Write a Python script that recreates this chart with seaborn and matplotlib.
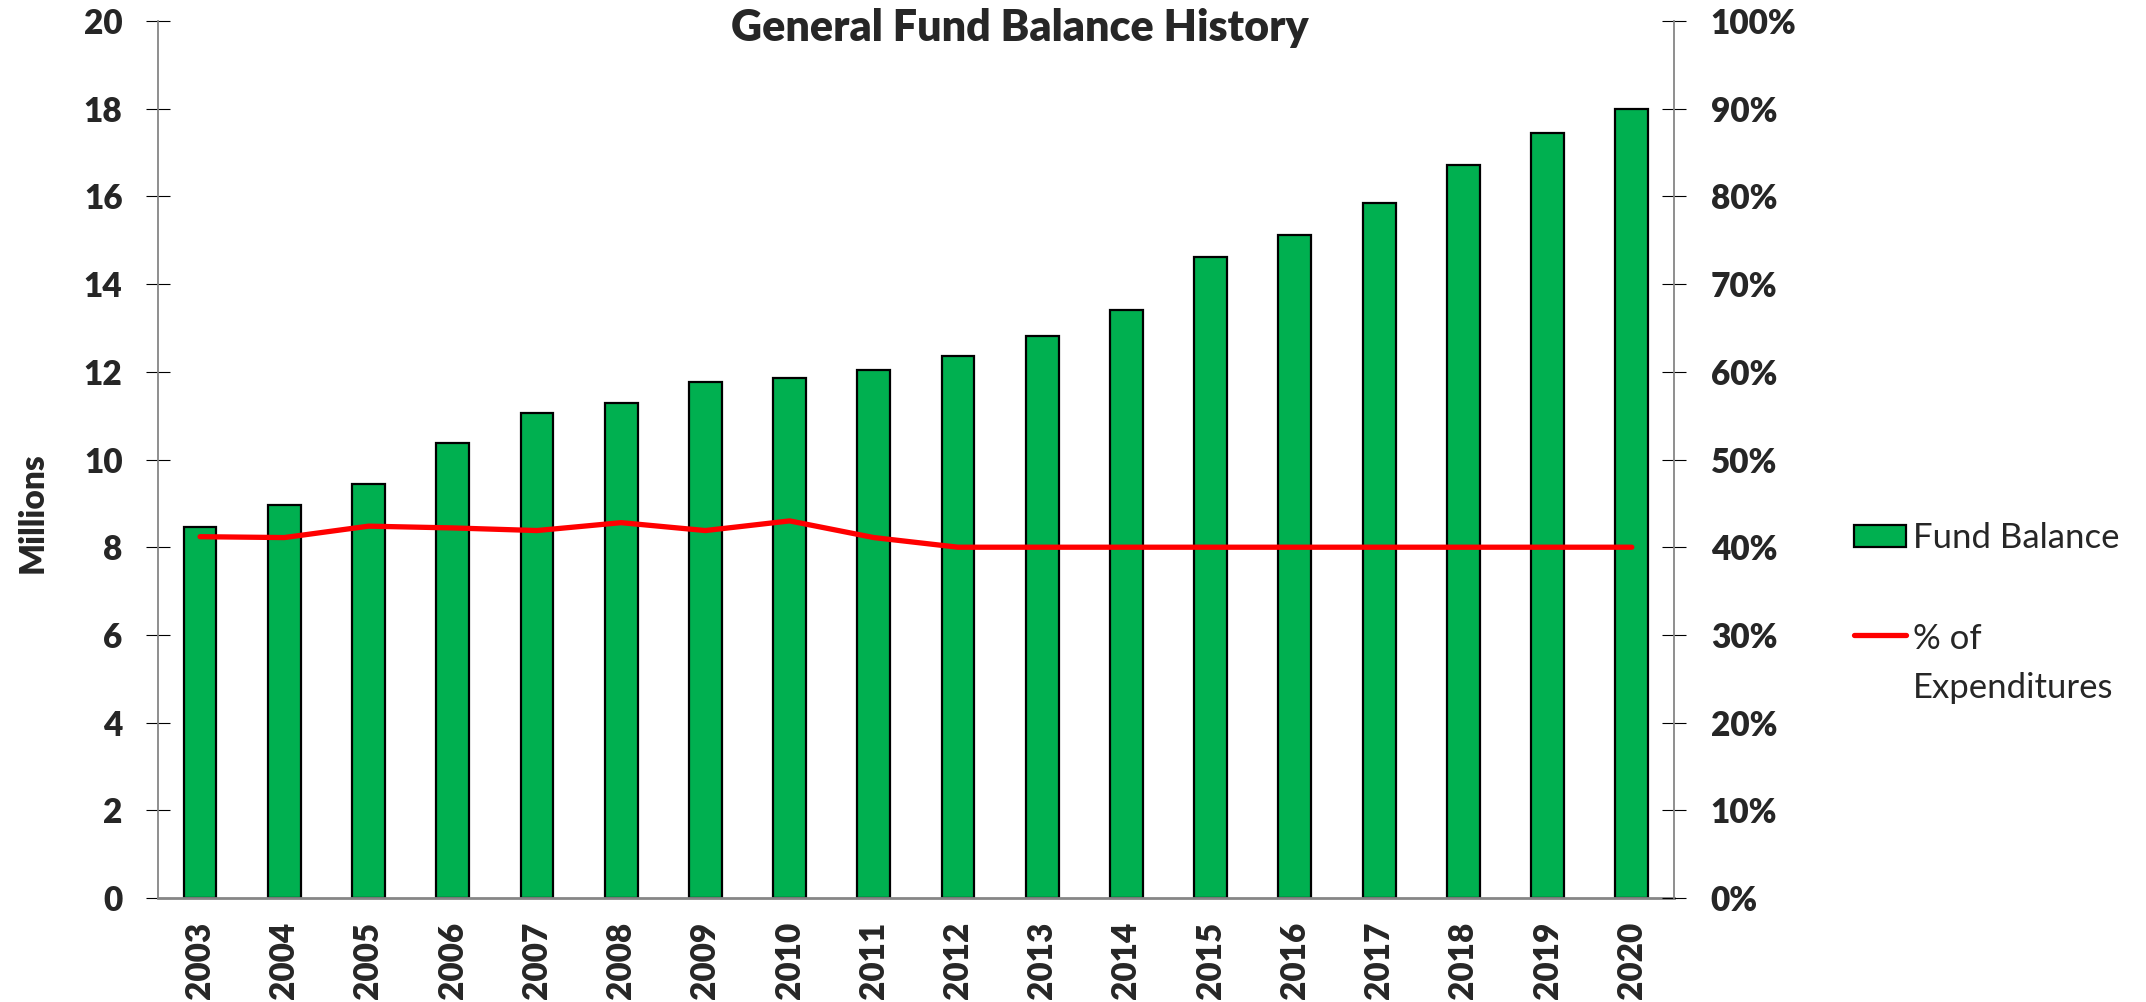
import numpy as np
import pandas as pd
import seaborn as sns
import matplotlib.pyplot as plt
from matplotlib.patches import Patch
from matplotlib.lines import Line2D
from matplotlib.ticker import FuncFormatter

sns.set_theme(style="white")
plt.rcParams['font.family'] = ['Lato', 'DejaVu Sans']

# data
years = [str(y) for y in range(2003, 2021)]
fund_balance = [8.47, 8.97, 9.45, 10.38, 11.05, 11.30, 11.76, 11.87, 12.04,
                12.35, 12.82, 13.42, 14.63, 15.11, 15.86, 16.71, 17.45, 17.99]
pct_expend = [0.412, 0.411, 0.424, 0.422, 0.419, 0.428, 0.419, 0.430, 0.411,
              0.400, 0.400, 0.400, 0.400, 0.400, 0.400, 0.400, 0.400, 0.400]

df = pd.DataFrame({'Year': years, 'Fund Balance': fund_balance, 'Pct': pct_expend})

green = '#00B050'
spine_gray = '#868686'
tick_fs = 24
heavy = 'heavy'

fig = plt.figure(figsize=(21.46, 10.02), dpi=100)
ax = fig.add_axes([0.0736, 0.1038, 0.7064, 0.8752])

sns.barplot(data=df, x='Year', y='Fund Balance', ax=ax, color=green,
            saturation=1, width=0.39, edgecolor='black', linewidth=1.6)

ax2 = ax.twinx()
sns.pointplot(data=df, x='Year', y='Pct', ax=ax2, color='red', markers='',
              linestyles='-', linewidth=3.8, errorbar=None)

ax.set_xlim(-0.5, 17.5)
ax2.set_xlim(-0.5, 17.5)
ax.set_ylim(0, 20)
ax2.set_ylim(0, 1)
ax.set_yticks(np.arange(0, 21, 2))
ax2.set_yticks(np.arange(0, 1.01, 0.1))
ax2.yaxis.set_major_formatter(FuncFormatter(lambda v, p: f"{v:.0%}"))

# category ticks: labels at centres, tick marks between categories
ax.set_xticks(range(len(years)))
ax.set_xticklabels(years, rotation=90, fontsize=tick_fs, fontweight=heavy)
ax.set_xticks(np.arange(-0.5, len(years), 1), minor=True)
ax.tick_params(axis='x', which='major', length=0, pad=17)
ax.tick_params(axis='x', which='minor', length=17, direction='inout',
               width=0.8, color='black')
ax.tick_params(axis='y', length=17, direction='inout', width=0.8,
               color='black', pad=17, labelsize=tick_fs)
ax2.tick_params(axis='y', length=17, direction='inout', width=0.8,
                color='black', pad=18, labelsize=tick_fs)
for lab in ax.get_yticklabels() + ax2.get_yticklabels():
    lab.set_fontweight(heavy)

ax.set_xlabel('')
ax.set_ylabel('Millions', fontsize=tick_fs, fontweight=heavy)
ax.yaxis.set_label_coords(-0.072, 0.44)
ax2.set_ylabel('')

for a in (ax, ax2):
    a.spines['top'].set_visible(False)
    a.grid(False)
ax.spines['right'].set_visible(False)
ax.spines['left'].set_color(spine_gray)
ax.spines['left'].set_linewidth(1.3)
ax.spines['bottom'].set_color(spine_gray)
ax.spines['bottom'].set_linewidth(2)
ax2.spines['left'].set_visible(False)
ax2.spines['bottom'].set_visible(False)
ax2.spines['right'].set_color(spine_gray)
ax2.spines['right'].set_linewidth(1.3)

fig.text(0.475, 0.972, 'General Fund Balance History', ha='center', va='center',
         fontsize=31, fontweight=heavy)

handles = [Patch(facecolor=green, edgecolor='black', linewidth=1.6),
           Line2D([], [], color='red', linewidth=3.8)]
leg = fig.legend(handles, ['Fund Balance', '% of\nExpenditures'],
                 loc='upper left', bbox_to_anchor=(0.864, 0.479),
                 frameon=False, fontsize=25, handlelength=1.5,
                 handleheight=0.6, handletextpad=0.2, labelspacing=2.0,
                 borderaxespad=0, borderpad=0)
leg.get_texts()[1].set_linespacing(1.65)
line_h = leg.get_lines()[0]
line_h.set_ydata(np.asarray(line_h.get_ydata()) + 22)

fig.savefig('out.png', dpi=100)
